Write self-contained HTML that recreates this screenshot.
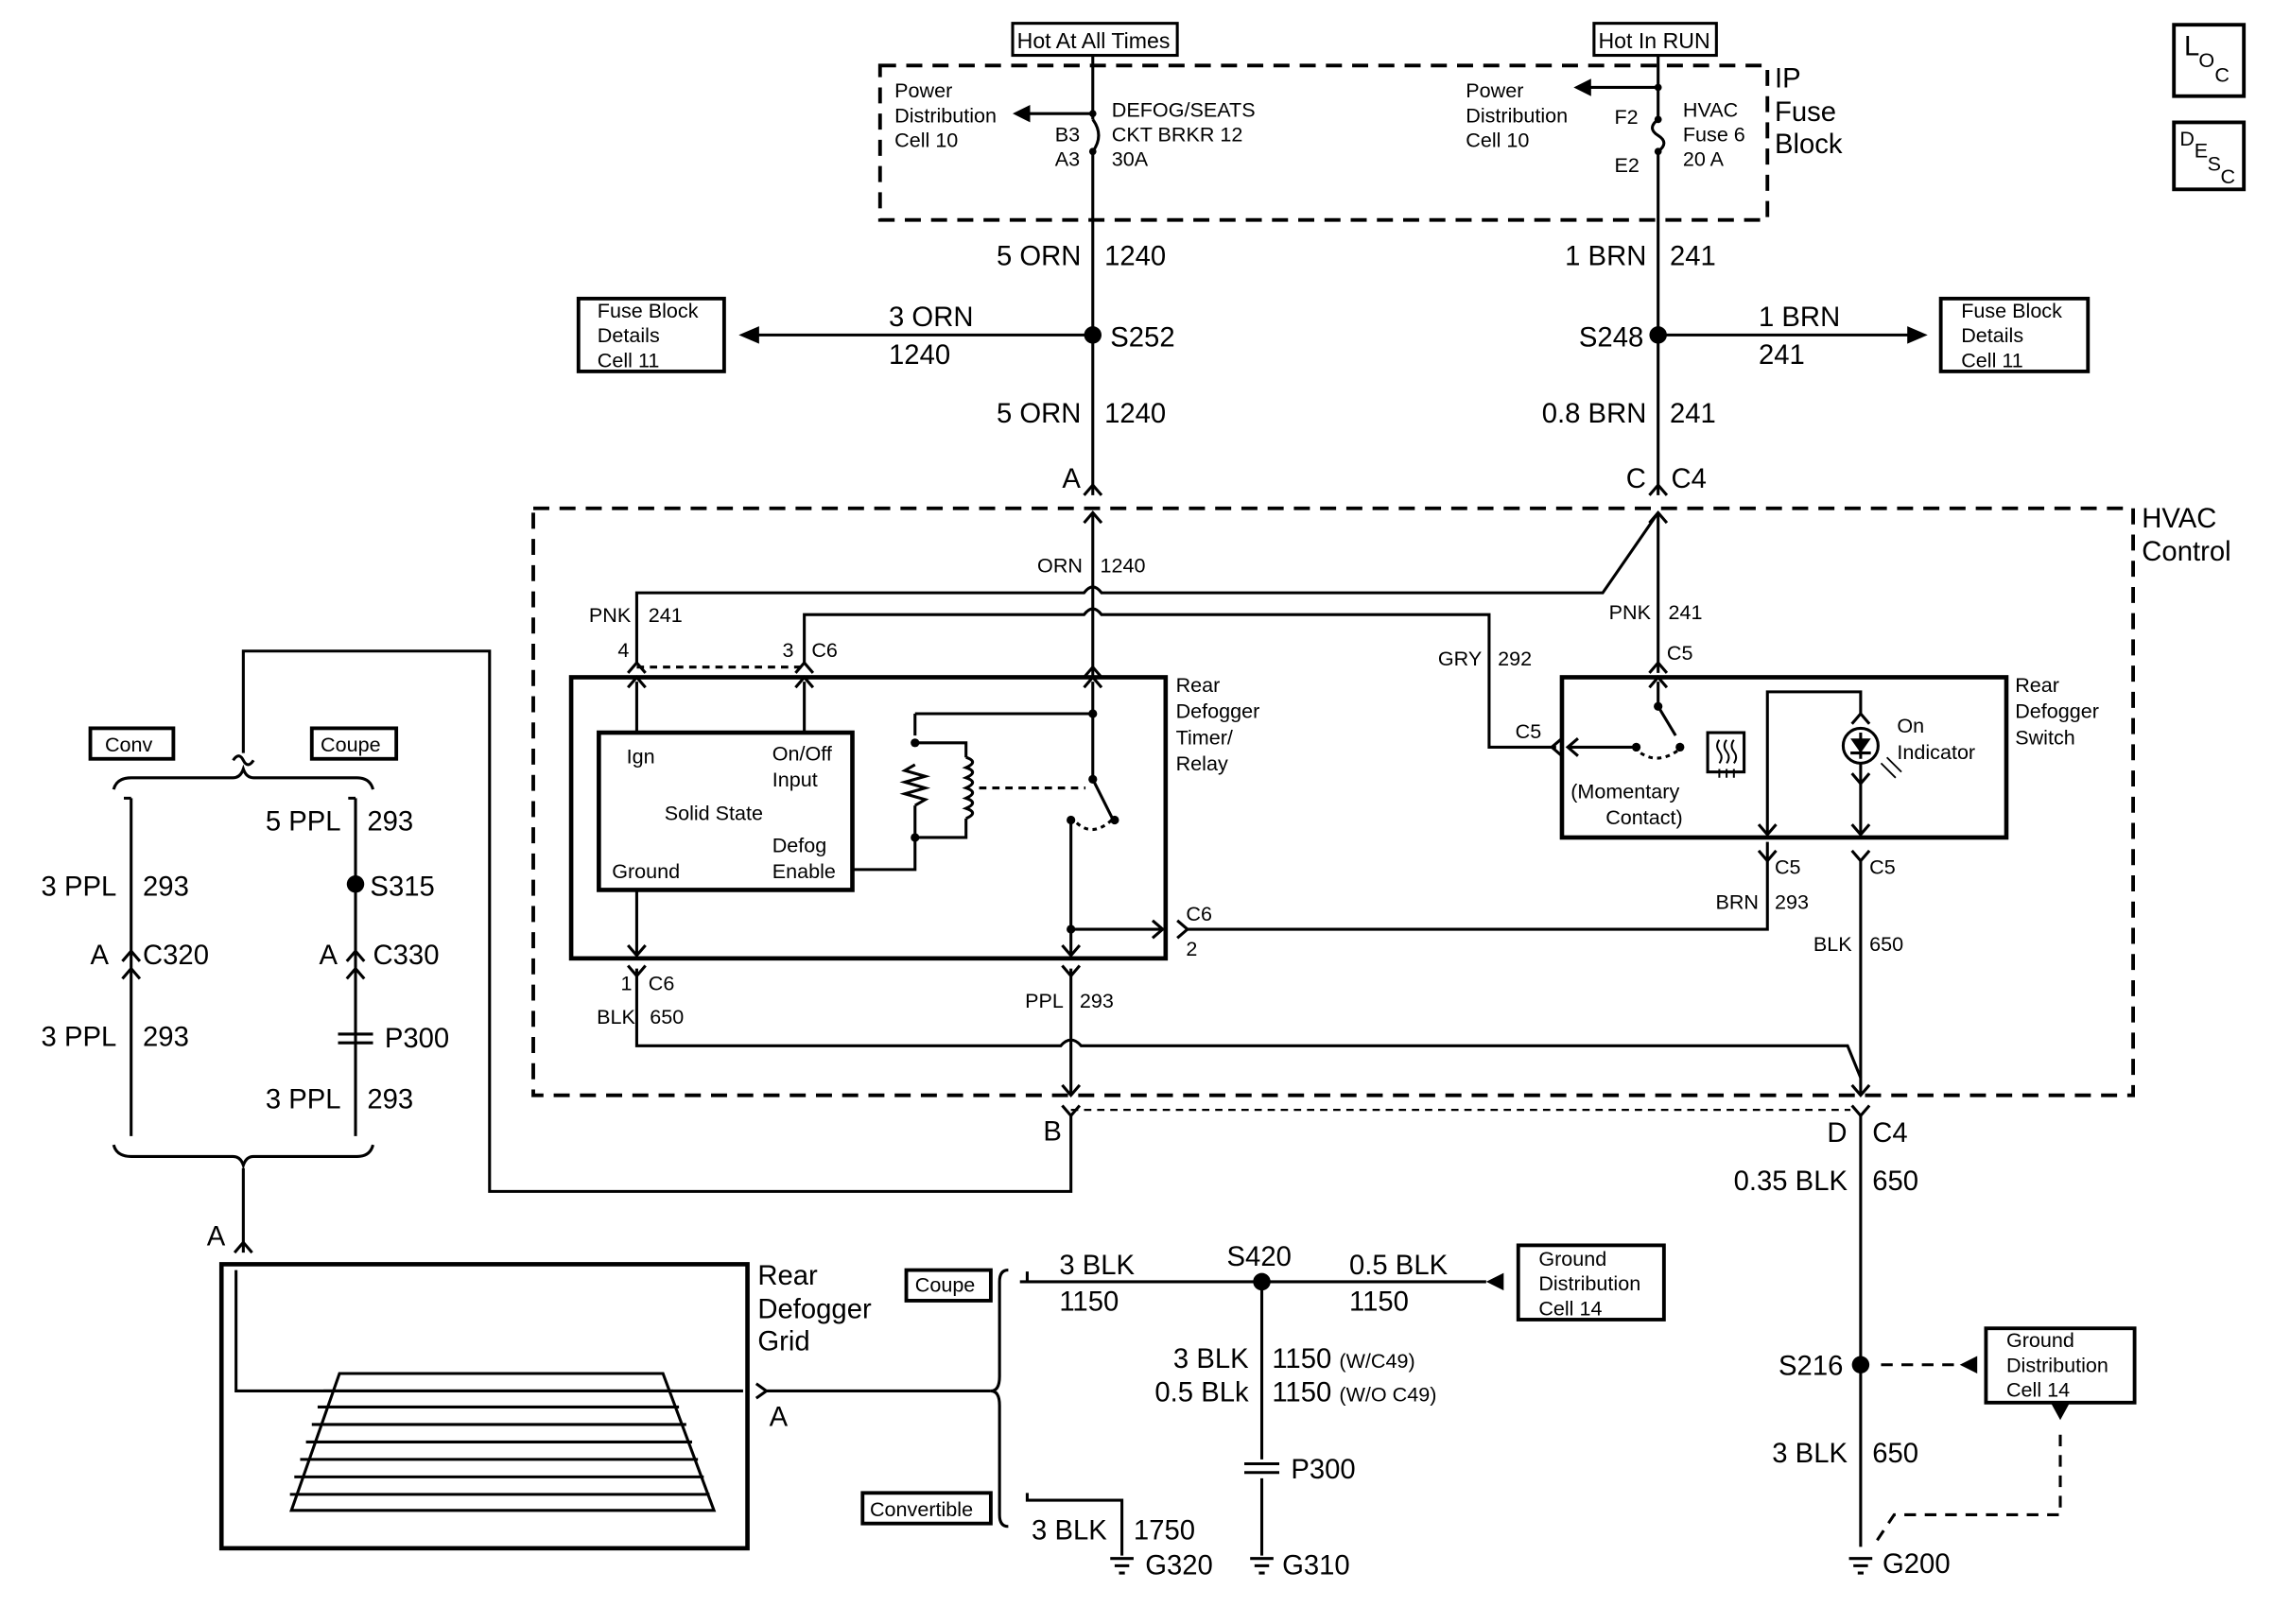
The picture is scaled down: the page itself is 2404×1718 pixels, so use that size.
<!DOCTYPE html>
<html><head><meta charset="utf-8"><style>
html,body{margin:0;padding:0;background:#fff;}
svg{display:block;}
text{font-family:"Liberation Sans",Arial,sans-serif;fill:#000;}
.b{font-size:19px;}
.s{font-size:14px;}
.m{font-size:15px;}
.l{font-size:19px;}
</style></head><body>
<svg width="2404" height="1718" viewBox="0 0 1560 1115" preserveAspectRatio="none" xmlns="http://www.w3.org/2000/svg">
<rect width="1560" height="1115" fill="#fff"/>
<g fill="none" stroke="#000" stroke-width="2">
<rect x="695" y="16" width="113" height="22"/>
<rect x="1094" y="16" width="84" height="22"/>
<rect x="1492" y="17" width="48" height="49" stroke-width="2.5"/>
<rect x="1492" y="84" width="48" height="46" stroke-width="2.5"/>
<rect x="604" y="45" width="609" height="106" stroke-dasharray="11,7" stroke-width="2.5"/>
<path d="M750 38 V82 M750 104 V340"/>
<path d="M750 82 Q758 93 750 104"/>
<path d="M750 78 H705"/>
<path d="M1138 38 V82 M1138 104 V340"/>
<path d="M1138 82 Q1130 88 1138 93 Q1146 98 1138 104"/>
<path d="M1138 60 H1090"/>
<path d="M750 230 H520"/>
<rect x="397" y="205" width="100" height="50" stroke-width="2.5"/>
<path d="M1138 230 H1312"/>
<rect x="1332" y="205" width="101" height="50" stroke-width="2.5"/>
<rect x="366" y="349" width="1098" height="403" stroke-dasharray="11,7" stroke-width="2.5"/>
<path d="M744 340 L750 333 L756 340"/>
<path d="M1132 340 L1138 333 L1144 340"/>
<path d="M750 352 V465"/>
<path d="M1138 352 V462"/>
<path d="M437 455 V407 H744 Q750 399 756 407 H1100 L1138 352"/>
<path d="M552 455 V422 H744 Q750 414 756 422 H1022 V513 H1068"/>
<path d="M437 458 H552" stroke-dasharray="5,4"/>
<rect x="392" y="465" width="408" height="193" stroke-width="3"/>
<rect x="411" y="503" width="174" height="108" stroke-width="3"/>
<path d="M437 503 V468 M552 503 V468"/>
<path d="M437 611 V656"/>
<path d="M585 597 H628 V575"/>
<path d="M628 490 H750 M750 468 V535 L764 563"/>
<path d="M628 490 V505 M628 525 L621 529 L635 533 L621 537 L635 541 L621 545 L635 549 L628 553 M628 553 V575 H663 V562 M628 510 H663 V520"/>
<path d="M663 520 Q672 523 663 527 Q672 530 663 534 Q672 537 663 541 Q672 544 663 548 Q672 551 663 555 Q672 558 663 562"/>
<path d="M672 541 H745" stroke-dasharray="5,4"/>
<path d="M739 565 Q750 575 763 563" stroke-dasharray="3,3"/>
<path d="M735 563 V656 M735 638 H798"/>
<path d="M815 638 H1213 V578"/>
<path d="M437 665 V718 H728 Q735 710 742 718 H1268 L1277 740"/>
<path d="M735 665 V752"/>
<rect x="1072" y="465" width="305" height="110" stroke-width="3"/>
<path d="M1138 468 V485 L1150 505"/>
<path d="M1123 513 H1076"/>
<path d="M1126 517 Q1138 525 1152 515" stroke-dasharray="3,3"/>
<rect x="1172" y="503" width="25" height="27"/>
<path d="M1180 508 q-3 4 0 8 q3 4 0 8 M1185 508 q-3 4 0 8 q3 4 0 8 M1190 508 q-3 4 0 8 q3 4 0 8 M1180 528 v6 M1185 528 v6 M1190 528 v6" stroke-width="1.3"/>
<path d="M1213 573 V475 H1277 V490"/>
<circle cx="1277" cy="512" r="12"/>
<path d="M1277 503 V521 M1270 517 H1284 M1277 524 V573 M1277 590 V752"/>
<path d="M1291 524 L1301 534 M1295 520 L1305 530" stroke-width="1.2"/>
<path d="M735 765 V818 H336 V447 H167 V517"/>
<path d="M735 762 H1270" stroke-dasharray="5,4" stroke-width="1.5"/>
<path d="M1277 765 V1062"/>
<path d="M1355 937 H1290" stroke-dasharray="8,6"/>
<rect x="1363" y="912" width="102" height="51" stroke-width="2.5"/>
<path d="M1414 985 V1040 H1300 L1288 1058" stroke-dasharray="8,6"/>
<rect x="62" y="500" width="57" height="21" stroke-width="2.5"/>
<rect x="214" y="500" width="58" height="21" stroke-width="2.5"/>
<path d="M160 522 Q164 516 167 522 Q170 528 174 522"/>
<path d="M78 542 Q80 534 90 534 H160 Q165 534 167 528 Q169 534 174 534 H245 Q254 534 256 542"/>
<path d="M90 548 V780 M85 548 H90"/>
<path d="M244 548 V780 M239 548 H244"/>
<path d="M78 786 Q80 794 90 794 H160 Q165 794 167 800 Q169 794 174 794 H245 Q254 794 256 786"/>
<path d="M167 802 V860"/>
<path d="M84 660 L90 653 L96 660 M84 672 L90 665 L96 672"/>
<path d="M238 660 L244 653 L250 660 M238 672 L244 665 L250 672"/>
<path d="M232 710 H256 M232 716 H256"/>
<path d="M161 860 L167 853 L173 860"/>
<rect x="152" y="868" width="361" height="195" stroke-width="3"/>
<path d="M162 872 V955 H510"/>
<path d="M233 943 H455 L490 1037 H200 Z"/>
<path d="M222 955 H462 M218 966 H466 M214 978 H471 M210 990 H475 M206 1002 H479 M202 1014 H483 M199 1026 H487"/>
<path d="M519 950 L526 955 L519 960 M526 955 H680"/>
<path d="M692 872 Q686 872 686 880 V945 Q686 955 680 955 Q686 955 686 965 V1040 Q686 1048 692 1048"/>
<rect x="622" y="872" width="58" height="21" stroke-width="2.5"/>
<rect x="592" y="1025" width="88" height="21" stroke-width="2.5"/>
<path d="M705 873 V880 H1020 M700 880 H705"/>
<rect x="1042" y="855" width="100" height="51" stroke-width="2.5"/>
<path d="M866 880 V1002 M866 1015 V1068"/>
<path d="M854 1005 H878 M854 1011 H878"/>
<path d="M705 1025 V1030 H770 V1068"/>
<path d="M762 1070 H778 M765 1075 H775 M768 1080 H772"/>
<path d="M858 1070 H874 M861 1075 H871 M864 1080 H868"/>
<path d="M1269 1070 H1285 M1272 1075 H1282 M1275 1080 H1279"/>
<path d="M744 359 L750 352 L756 359 M744 465 L750 458 L756 465 M744 472 L750 465 L756 472"/>
<path d="M1132 359 L1138 352 L1144 359 M1132 462 L1138 455 L1144 462 M1132 472 L1138 465 L1144 472"/>
<path d="M431 462 L437 455 L443 462 M431 472 L437 465 L443 472"/>
<path d="M546 462 L552 455 L558 462 M546 472 L552 465 L558 472"/>
<path d="M431 649 L437 656 L443 649 M431 663 L437 670 L443 663"/>
<path d="M729 649 L735 656 L741 649 M729 663 L735 670 L741 663"/>
<path d="M729 759 L735 766 L741 759 M729 745 L735 752 L741 745"/>
<path d="M1271 759 L1277 766 L1283 759 M1271 745 L1277 752 L1283 745"/>
<path d="M1207 566 L1213 573 L1219 566 M1207 584 L1213 591 L1219 584"/>
<path d="M1271 566 L1277 573 L1283 566 M1271 584 L1277 591 L1283 584 M1271 497 L1277 490 L1283 497 M1271 531 L1277 538 L1283 531"/>
<path d="M791 632 L798 638 L791 644 M808 632 L815 638 L808 644"/>
<path d="M1083 507 L1076 513 L1083 519 M1072 507 L1065 513 L1072 519"/>
</g>
<g fill="#000">
<polygon points="695,78 707,72 707,84"/>
<polygon points="1080,60 1092,54 1092,66"/>
<polygon points="507,230 521,224 521,236"/>
<polygon points="1323,230 1309,224 1309,236"/>
<polygon points="1020,880 1032,874 1032,886"/>
<polygon points="1345,937 1357,931 1357,943"/>
<polygon points="1414,975 1408,964 1420,964"/>
<circle cx="750" cy="230" r="6"/><circle cx="1138" cy="230" r="6"/>
<circle cx="750" cy="78" r="2.5"/><circle cx="750" cy="104" r="2.5"/>
<circle cx="1138" cy="82" r="2.5"/><circle cx="1138" cy="104" r="2.5"/><circle cx="1138" cy="60" r="2.5"/>
<circle cx="244" cy="607" r="6"/><circle cx="866" cy="880" r="6"/><circle cx="1277" cy="937" r="6"/>
<circle cx="750" cy="490" r="3"/><circle cx="750" cy="535" r="3"/><circle cx="765" cy="563" r="3"/><circle cx="735" cy="563" r="3"/><circle cx="735" cy="638" r="3"/>
<circle cx="628" cy="510" r="3"/><circle cx="628" cy="575" r="3"/>
<circle cx="1138" cy="485" r="3"/><circle cx="1123" cy="513" r="3"/><circle cx="1153" cy="513" r="3"/>
<polygon points="1270,507 1284,507 1277,517"/>
</g>
<text class="m" x="698" y="33">Hot At All Times</text>
<text class="m" x="1097" y="33">Hot In RUN</text>
<text class="l" x="1499" y="38">L</text><text class="s" x="1509" y="46">O</text><text class="s" x="1520" y="56">C</text>
<text class="s" x="1496" y="100">D</text><text class="s" x="1506" y="108">E</text><text class="s" x="1515" y="117">S</text><text class="s" x="1524" y="126">C</text>
<text class="l" x="1218" y="60">IP</text><text class="l" x="1218" y="83">Fuse</text><text class="l" x="1218" y="105">Block</text>
<text class="s" x="614" y="67">Power</text><text class="s" x="614" y="84">Distribution</text><text class="s" x="614" y="101">Cell 10</text>
<text class="s" x="1006" y="67">Power</text><text class="s" x="1006" y="84">Distribution</text><text class="s" x="1006" y="101">Cell 10</text>
<text class="s" x="724" y="97">B3</text><text class="s" x="724" y="114">A3</text>
<text class="s" x="763" y="80">DEFOG/SEATS</text><text class="s" x="763" y="97">CKT BRKR 12</text><text class="s" x="763" y="114">30A</text>
<text class="s" x="1108" y="85">F2</text><text class="s" x="1108" y="118">E2</text>
<text class="s" x="1155" y="80">HVAC</text><text class="s" x="1155" y="97">Fuse 6</text><text class="s" x="1155" y="114">20 A</text>
<text class="b" x="742" y="182" text-anchor="end">5 ORN</text><text class="b" x="758" y="182">1240</text>
<text class="b" x="610" y="224">3 ORN</text><text class="b" x="610" y="250">1240</text>
<text class="b" x="762" y="238">S252</text>
<text class="s" x="410" y="218">Fuse Block</text><text class="s" x="410" y="235">Details</text><text class="s" x="410" y="252">Cell 11</text>
<text class="b" x="742" y="290" text-anchor="end">5 ORN</text><text class="b" x="758" y="290">1240</text>
<text class="b" x="729" y="335">A</text>
<text class="b" x="1130" y="182" text-anchor="end">1 BRN</text><text class="b" x="1146" y="182">241</text>
<text class="b" x="1128" y="238" text-anchor="end">S248</text>
<text class="b" x="1207" y="224">1 BRN</text><text class="b" x="1207" y="250">241</text>
<text class="s" x="1346" y="218">Fuse Block</text><text class="s" x="1346" y="235">Details</text><text class="s" x="1346" y="252">Cell 11</text>
<text class="b" x="1130" y="290" text-anchor="end">0.8 BRN</text><text class="b" x="1146" y="290">241</text>
<text class="b" x="1116" y="335">C</text><text class="b" x="1147" y="335">C4</text>
<text class="l" x="1470" y="362">HVAC</text><text class="l" x="1470" y="385">Control</text>
<text class="s" x="743" y="393" text-anchor="end">ORN</text><text class="s" x="755" y="393">1240</text>
<text class="s" x="433" y="427" text-anchor="end">PNK</text><text class="s" x="445" y="427">241</text>
<text class="s" x="1133" y="425" text-anchor="end">PNK</text><text class="s" x="1145" y="425">241</text>
<text class="s" x="1017" y="457" text-anchor="end">GRY</text><text class="s" x="1028" y="457">292</text>
<text class="s" x="424" y="451">4</text><text class="s" x="537" y="451">3</text><text class="s" x="557" y="451">C6</text>
<text class="s" x="1144" y="453">C5</text><text class="s" x="1040" y="507">C5</text>
<text class="s" x="807" y="475">Rear</text><text class="s" x="807" y="493">Defogger</text><text class="s" x="807" y="511">Timer/</text><text class="s" x="807" y="529">Relay</text>
<text class="s" x="430" y="524">Ign</text><text class="s" x="530" y="522">On/Off</text><text class="s" x="530" y="540">Input</text>
<text class="s" x="456" y="563">Solid State</text>
<text class="s" x="530" y="585">Defog</text><text class="s" x="530" y="603">Enable</text><text class="s" x="420" y="603">Ground</text>
<text class="s" x="814" y="632">C6</text><text class="s" x="814" y="656">2</text>
<text class="s" x="426" y="680">1</text><text class="s" x="445" y="680">C6</text>
<text class="s" x="436" y="703" text-anchor="end">BLK</text><text class="s" x="446" y="703">650</text>
<text class="s" x="730" y="692" text-anchor="end">PPL</text><text class="s" x="741" y="692">293</text>
<text class="s" x="1383" y="475">Rear</text><text class="s" x="1383" y="493">Defogger</text><text class="s" x="1383" y="511">Switch</text>
<text class="s" x="1302" y="503">On</text><text class="s" x="1302" y="521">Indicator</text>
<text class="s" x="1078" y="548">(Momentary</text><text class="s" x="1102" y="566">Contact)</text>
<text class="s" x="1218" y="600">C5</text><text class="s" x="1283" y="600">C5</text>
<text class="s" x="1207" y="624" text-anchor="end">BRN</text><text class="s" x="1218" y="624">293</text>
<text class="s" x="1271" y="653" text-anchor="end">BLK</text><text class="s" x="1283" y="653">650</text>
<text class="b" x="716" y="783">B</text>
<text class="b" x="1254" y="784">D</text><text class="b" x="1285" y="784">C4</text>
<text class="b" x="1268" y="817" text-anchor="end">0.35 BLK</text><text class="b" x="1285" y="817">650</text>
<text class="b" x="1265" y="944" text-anchor="end">S216</text>
<text class="s" x="1377" y="925">Ground</text><text class="s" x="1377" y="942">Distribution</text><text class="s" x="1377" y="959">Cell 14</text>
<text class="b" x="1268" y="1004" text-anchor="end">3 BLK</text><text class="b" x="1285" y="1004">650</text>
<text class="b" x="1292" y="1080">G200</text>
<text class="s" x="72" y="516">Conv</text><text class="s" x="220" y="516">Coupe</text>
<text class="b" x="234" y="570" text-anchor="end">5 PPL</text><text class="b" x="252" y="570">293</text>
<text class="b" x="80" y="615" text-anchor="end">3 PPL</text><text class="b" x="98" y="615">293</text>
<text class="b" x="254" y="615">S315</text>
<text class="b" x="62" y="662">A</text><text class="b" x="98" y="662">C320</text>
<text class="b" x="219" y="662">A</text><text class="b" x="256" y="662">C330</text>
<text class="b" x="80" y="718" text-anchor="end">3 PPL</text><text class="b" x="98" y="718">293</text>
<text class="b" x="264" y="719">P300</text>
<text class="b" x="234" y="761" text-anchor="end">3 PPL</text><text class="b" x="252" y="761">293</text>
<text class="b" x="142" y="855">A</text>
<text class="l" x="520" y="882">Rear</text><text class="l" x="520" y="905">Defogger</text><text class="l" x="520" y="927">Grid</text>
<text class="b" x="528" y="979">A</text>
<text class="s" x="628" y="887">Coupe</text><text class="s" x="597" y="1041">Convertible</text>
<text class="b" x="727" y="875">3 BLK</text><text class="b" x="727" y="900">1150</text>
<text class="b" x="842" y="869">S420</text>
<text class="b" x="926" y="875">0.5 BLK</text><text class="b" x="926" y="900">1150</text>
<text class="s" x="1056" y="869">Ground</text><text class="s" x="1056" y="886">Distribution</text><text class="s" x="1056" y="903">Cell 14</text>
<text class="b" x="857" y="939" text-anchor="end">3 BLK</text><text class="b" x="873" y="939">1150 <tspan class="s">(W/C49)</tspan></text>
<text class="b" x="857" y="962" text-anchor="end">0.5 BLk</text><text class="b" x="873" y="962">1150 <tspan class="s">(W/O C49)</tspan></text>
<text class="b" x="886" y="1015">P300</text>
<text class="b" x="880" y="1081">G310</text>
<text class="b" x="708" y="1057">3 BLK</text><text class="b" x="778" y="1057">1750</text>
<text class="b" x="786" y="1081">G320</text>
</svg>
</body></html>
